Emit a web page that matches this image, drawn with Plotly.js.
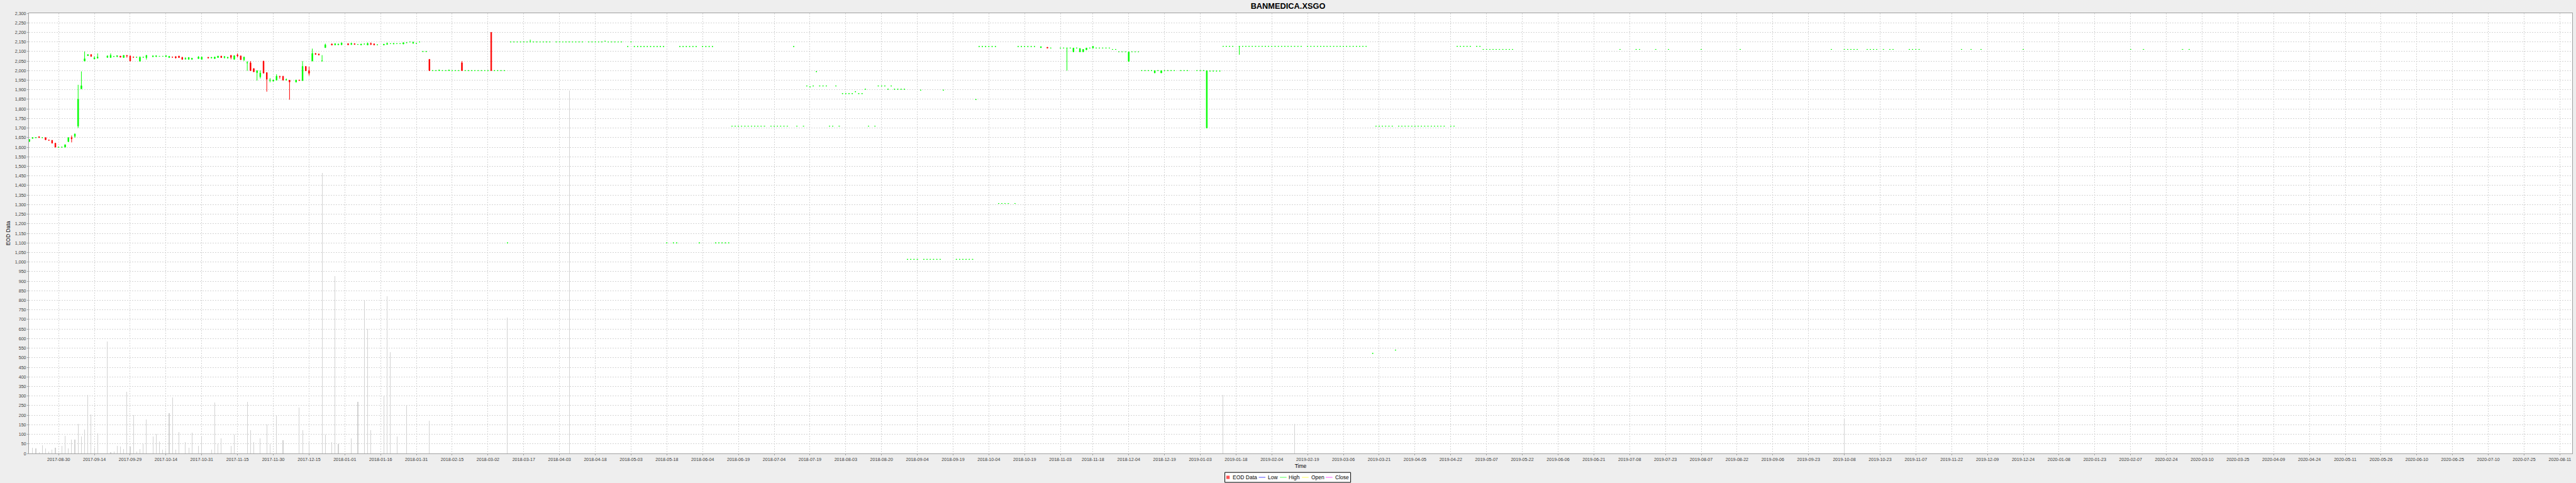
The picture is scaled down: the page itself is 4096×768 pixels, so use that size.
<!DOCTYPE html>
<html><head><meta charset="utf-8">
<script src="https://cdn.plot.ly/plotly-3.0.1.min.js"></script>
<style>html,body{margin:0;padding:0;background:#EEEEEE;}#chart{width:4096px;height:768px;}</style>
</head><body><div id="chart"></div>
<script>
// ---- candles with a visible range (open/high/low/close) ----
const barDates = [
'2017-08-17','2017-08-18','2017-08-21','2017-08-22','2017-08-24','2017-08-25','2017-08-28','2017-08-29',
'2017-09-01','2017-09-04','2017-09-05','2017-09-06','2017-09-07','2017-09-08','2017-09-11','2017-09-12','2017-09-13','2017-09-14','2017-09-15','2017-09-20','2017-09-21','2017-09-25','2017-09-26','2017-09-27','2017-09-28','2017-09-29',
'2017-10-02','2017-10-04','2017-10-06','2017-10-10','2017-10-11','2017-10-16','2017-10-17','2017-10-18','2017-10-19','2017-10-20','2017-10-23','2017-10-24','2017-10-25','2017-10-26','2017-10-30','2017-10-31',
'2017-11-02','2017-11-03','2017-11-06','2017-11-07','2017-11-08','2017-11-09','2017-11-10','2017-11-13','2017-11-14','2017-11-15','2017-11-16','2017-11-17','2017-11-20','2017-11-21','2017-11-22','2017-11-23','2017-11-24','2017-11-27','2017-11-28','2017-11-29','2017-11-30',
'2017-12-01','2017-12-04','2017-12-05','2017-12-06','2017-12-07','2017-12-11','2017-12-12','2017-12-13','2017-12-14','2017-12-15','2017-12-18','2017-12-19','2017-12-20','2017-12-21','2017-12-22','2017-12-26','2017-12-27','2017-12-28','2017-12-29',
'2018-01-02','2018-01-03','2018-01-04','2018-01-08','2018-01-10','2018-01-11','2018-01-12','2018-01-17','2018-01-18','2018-01-22','2018-01-25','2018-01-30',
'2018-02-06','2018-02-09','2018-02-14','2018-02-20','2018-03-05','2018-03-21',
'2018-10-26','2018-10-30','2018-11-07','2018-11-09','2018-11-13','2018-11-14','2018-11-15','2018-11-19','2018-12-04','2018-12-14','2018-12-18',
'2019-01-07','2019-01-21'];
const barOpen = [
1630,1646,1650,1655,1650,1637,1636,1621,
1600,1629,1650,1657,1710,1905,2050,2078,2084,2061,2065,2069,2068,2074,2076,2068,2080,2077,
2071,2049,2068,2073,2074,2073,2068,2071,2073,2076,2069,2060,2059,2059,2063,2059,
2070,2066,2063,2068,2076,2069,2066,2080,2059,2082,2077,2057,2040,2041,2011,1989,1968,2050,1990,1949,1945,
1950,1971,1971,1950,1950,1940,1951,1948,2022,2000,2050,2090,2087,2050,2120,2139,2134,2135,2135,
2141,2137,2141,2134,2134,2142,2140,2134,2137,2139,2139,2143,
2059,2000,2000,2041,2200,2150,
2120,2122,2118,2098,2098,2098,2109,2118,2048,1988,1988,
1700,2127];
const barHigh = [
1641,1650,1651,1656,1650,1637,1636,1621,
1613,1650,1661,1671,1926,1996,2100,2084,2084,2075,2090,2080,2090,2080,2076,2080,2080,2077,
2071,2075,2080,2080,2080,2080,2075,2071,2075,2076,2072,2070,2069,2065,2076,2071,
2070,2069,2071,2076,2076,2076,2070,2080,2078,2090,2077,2071,2050,2050,2011,2000,2001,2050,1990,1961,1951,
1981,1971,1971,1959,1950,1951,1951,2050,2022,2021,2115,2090,2087,2081,2141,2142,2141,2139,2145,
2141,2146,2141,2139,2147,2147,2140,2138,2147,2142,2146,2152,
2059,2003,2003,2050,2200,2162,
2126,2122,2118,2118,2116,2111,2118,2127,2098,2000,2000,
2000,2127];
const barLow = [
1628,1645,1649,1650,1638,1636,1621,1600,
1600,1629,1625,1649,1700,1905,2050,2078,2074,2060,2065,2069,2068,2070,2070,2068,2068,2050,
2070,2049,2058,2070,2071,2073,2068,2070,2063,2068,2057,2059,2059,2059,2063,2059,
2066,2066,2063,2068,2068,2063,2063,2059,2059,2069,2057,2050,1999,2000,1994,1948,1959,1987,1890,1939,1945,
1950,1958,1950,1950,1848,1940,1949,1948,1999,1974,2050,2085,2080,2050,2120,2132,2134,2135,2135,
2135,2134,2137,2134,2134,2134,2134,2134,2137,2139,2139,2141,
2000,2000,2000,2000,2000,2150,
2120,2118,2000,2098,2098,2098,2109,2118,2048,1988,1988,
1700,2083];
const barClose = [
1640,1650,1650,1650,1639,1636,1621,1600,
1613,1650,1644,1669,1851,1921,2062,2084,2074,2067,2071,2076,2080,2078,2070,2080,2077,2050,
2070,2070,2080,2076,2077,2078,2075,2070,2067,2068,2059,2063,2069,2065,2071,2071,
2066,2069,2071,2076,2068,2073,2070,2069,2078,2077,2057,2071,2042,2000,1994,2000,1987,1987,1955,1951,1951,
1971,1969,1950,1953,1941,1951,1949,2022,1999,1986,2090,2085,2082,2051,2135,2134,2141,2139,2145,
2135,2142,2137,2139,2142,2137,2134,2138,2142,2142,2146,2148,
2000,2003,2003,2000,2000,2150,
2125,2118,2118,2118,2116,2111,2118,2127,2098,2000,2000,
2000,2127];

// ---- days quoted at a single price (open = high = low = close) ----
const flatDates = [
'2017-08-23','2017-08-30','2017-08-31','2017-09-22','2017-10-03','2017-10-05','2017-10-12','2017-10-13',
'2018-01-05','2018-01-09','2018-01-15','2018-01-19','2018-01-23','2018-01-24','2018-01-26','2018-01-29','2018-01-31',
'2018-02-01','2018-02-02','2018-02-05','2018-02-07','2018-02-08','2018-02-12','2018-02-13','2018-02-15','2018-02-16','2018-02-19','2018-02-21','2018-02-22','2018-02-23','2018-02-26','2018-02-27','2018-02-28',
'2018-03-01','2018-03-02','2018-03-06','2018-03-07','2018-03-08','2018-03-09','2018-03-12','2018-03-13','2018-03-14','2018-03-15','2018-03-16','2018-03-19','2018-03-20','2018-03-22','2018-03-23','2018-03-26','2018-03-27','2018-03-28','2018-03-29',
'2018-04-02','2018-04-03','2018-04-04','2018-04-05','2018-04-06','2018-04-09','2018-04-10','2018-04-11','2018-04-12','2018-04-16','2018-04-17','2018-04-18','2018-04-19','2018-04-20','2018-04-23','2018-04-24','2018-04-25','2018-04-26','2018-04-27','2018-04-30',
'2018-05-02','2018-05-03','2018-05-04','2018-05-07','2018-05-08','2018-05-09','2018-05-10','2018-05-11','2018-05-14','2018-05-15','2018-05-16','2018-05-17','2018-05-18','2018-05-22','2018-05-23','2018-05-24','2018-05-25','2018-05-28','2018-05-29','2018-05-30','2018-05-31',
'2018-06-01','2018-06-04','2018-06-05','2018-06-06','2018-06-07','2018-06-08','2018-06-11','2018-06-12','2018-06-13','2018-06-14','2018-06-15','2018-06-18','2018-06-19','2018-06-20','2018-06-21','2018-06-22','2018-06-25','2018-06-26','2018-06-27','2018-06-28','2018-06-29',
'2018-07-03','2018-07-04','2018-07-05','2018-07-06','2018-07-09','2018-07-10','2018-07-12','2018-07-13','2018-07-17','2018-07-18','2018-07-19','2018-07-20','2018-07-23','2018-07-24','2018-07-25','2018-07-26','2018-07-27','2018-07-30','2018-07-31',
'2018-08-01','2018-08-02','2018-08-03','2018-08-06','2018-08-07','2018-08-08','2018-08-09','2018-08-10','2018-08-13','2018-08-14','2018-08-16','2018-08-17','2018-08-20','2018-08-21','2018-08-22','2018-08-23','2018-08-24','2018-08-27','2018-08-28','2018-08-29','2018-08-30','2018-08-31',
'2018-09-03','2018-09-04','2018-09-05','2018-09-06','2018-09-07','2018-09-10','2018-09-11','2018-09-12','2018-09-13','2018-09-14','2018-09-20','2018-09-21','2018-09-24','2018-09-25','2018-09-26','2018-09-27','2018-09-28',
'2018-10-01','2018-10-02','2018-10-03','2018-10-04','2018-10-05','2018-10-08','2018-10-09','2018-10-10','2018-10-11','2018-10-12','2018-10-16','2018-10-17','2018-10-18','2018-10-19','2018-10-22','2018-10-23','2018-10-24','2018-10-31',
'2018-11-05','2018-11-06','2018-11-08','2018-11-12','2018-11-16','2018-11-20','2018-11-21','2018-11-22','2018-11-23','2018-11-26','2018-11-27','2018-11-28','2018-11-29','2018-11-30',
'2018-12-03','2018-12-05','2018-12-06','2018-12-07','2018-12-10','2018-12-11','2018-12-12','2018-12-13','2018-12-17','2018-12-19','2018-12-20','2018-12-21','2018-12-24','2018-12-26','2018-12-27','2018-12-28',
'2019-01-02','2019-01-03','2019-01-04','2019-01-08','2019-01-09','2019-01-10','2019-01-11','2019-01-14','2019-01-15','2019-01-16','2019-01-17','2019-01-22','2019-01-23','2019-01-24','2019-01-25','2019-01-28','2019-01-29','2019-01-30','2019-01-31',
'2019-02-01','2019-02-04','2019-02-05','2019-02-06','2019-02-07','2019-02-08','2019-02-11','2019-02-12','2019-02-13','2019-02-14','2019-02-15','2019-02-19','2019-02-20','2019-02-21','2019-02-22','2019-02-25','2019-02-26','2019-02-27','2019-02-28',
'2019-03-01','2019-03-04','2019-03-05','2019-03-06','2019-03-07','2019-03-08','2019-03-11','2019-03-12','2019-03-13','2019-03-14','2019-03-15','2019-03-19','2019-03-20','2019-03-21','2019-03-22','2019-03-25','2019-03-26','2019-03-27','2019-03-28','2019-03-29',
'2019-04-01','2019-04-02','2019-04-03','2019-04-04','2019-04-05','2019-04-08','2019-04-09','2019-04-10','2019-04-11','2019-04-12','2019-04-15','2019-04-16','2019-04-17','2019-04-18','2019-04-22','2019-04-23','2019-04-24','2019-04-25','2019-04-26','2019-04-29','2019-04-30',
'2019-05-02','2019-05-03','2019-05-06','2019-05-07','2019-05-08','2019-05-09','2019-05-10','2019-05-13','2019-05-14','2019-05-15','2019-05-16','2019-05-17',
'2019-07-03','2019-07-10','2019-07-11','2019-07-18','2019-07-24','2019-08-07','2019-08-23','2019-10-02','2019-10-08','2019-10-09','2019-10-10','2019-10-11','2019-10-14','2019-10-17','2019-10-18','2019-10-21','2019-10-22','2019-10-24','2019-10-28','2019-10-29','2019-11-05','2019-11-06','2019-11-07','2019-11-08','2019-11-27','2019-12-02','2019-12-05','2019-12-24',
'2020-02-07','2020-02-13','2020-03-02','2020-03-04'];
const flatPrice = [
1650,1600,1600,2074,2070,2070,2075,2075,
2137,2139,2135,2141,2141,2141,2146,2150,2143,
2150,2100,2100,2000,2000,2000,2000,2000,2000,2000,2000,2000,2000,2000,2000,2000,
2000,2000,2000,2000,2000,2000,1100,2150,2150,2150,2150,2150,2150,2150,2150,2150,2150,2150,2150,
2150,2150,2150,2150,2150,2150,2150,2150,2150,2150,2150,2150,2150,2150,2154,2150,2150,2150,2150,2150,
2126,2150,2126,2126,2126,2126,2126,2126,2126,2126,2126,2126,1100,1100,1100,2126,2126,2126,2126,2126,2126,
1100,2126,2126,2126,2126,1100,1100,1100,1100,1100,1710,1710,1710,1710,1710,1710,1710,1710,1710,1710,1710,
1710,1710,1710,1710,1710,1710,2126,1710,1710,1920,1915,1920,1995,1920,1920,1920,1710,1710,1920,
1710,1880,1880,1880,1880,1890,1880,1880,1903,1710,1710,1920,1920,1920,1903,1920,1903,1903,1903,1903,1014,1014,
1014,1014,1898,1014,1014,1014,1014,1014,1014,1898,1014,1014,1014,1014,1014,1014,1849,
2126,2126,2126,2126,2126,2126,1306,1306,1306,1306,1306,2126,2126,2126,2126,2126,2126,2118,
2118,2118,2118,2118,2118,2118,2118,2118,2118,2118,2111,2111,2098,2098,
2098,2098,2098,2098,2000,2000,2000,2000,2000,2000,2000,2000,2000,2000,2000,2000,
2000,2000,2000,1998,1998,1998,1998,2127,2127,2127,2127,2127,2127,2127,2127,2127,2127,2127,2127,
2127,2127,2127,2127,2127,2127,2127,2127,2127,2127,2127,2127,2127,2127,2127,2127,2127,2127,2127,
2127,2127,2127,2127,2127,2127,2127,2127,2127,2127,2127,523,1710,1710,1710,1710,1710,1710,540,1710,
1710,1710,1710,1710,1710,1710,1710,1710,1710,1710,1710,1710,1710,1710,1710,1710,2127,2127,2127,2127,2127,
2127,2127,2111,2111,2111,2111,2111,2111,2111,2111,2111,2111,
2111,2111,2111,2111,2111,2111,2111,2111,2111,2111,2111,2111,2111,2111,2111,2111,2111,2111,2111,2111,2111,2111,2111,2111,2111,2111,2111,2111,
2111,2111,2111,2111];

// ---- traded volume ----
const volDates = [
'2017-08-18','2017-08-21','2017-08-22','2017-08-23','2017-08-24','2017-08-25','2017-08-28','2017-08-29','2017-08-30','2017-08-31',
'2017-09-01','2017-09-04','2017-09-05','2017-09-06','2017-09-07','2017-09-08','2017-09-11','2017-09-12','2017-09-13','2017-09-14','2017-09-15','2017-09-20','2017-09-21','2017-09-22','2017-09-25','2017-09-26','2017-09-27','2017-09-28','2017-09-29',
'2017-10-02','2017-10-03','2017-10-04','2017-10-05','2017-10-06','2017-10-10','2017-10-11','2017-10-12','2017-10-13','2017-10-16','2017-10-17','2017-10-18','2017-10-19','2017-10-20',
'2017-10-24','2017-10-25','2017-10-26','2017-10-30','2017-10-31','2017-11-03','2017-11-06','2017-11-07','2017-11-08','2017-11-13','2017-11-14','2017-11-20','2017-11-21','2017-11-22','2017-11-24','2017-11-28','2017-11-29',
'2017-12-01','2017-12-05','2017-12-12','2017-12-13','2017-12-15','2017-12-21','2017-12-22','2017-12-26','2017-12-27','2017-12-28',
'2018-01-03','2018-01-05','2018-01-09','2018-01-10','2018-01-11','2018-01-17','2018-01-18','2018-01-19','2018-01-23','2018-01-26','2018-02-06','2018-03-12','2018-04-06',
'2019-01-14','2019-02-13','2019-10-08'];
const volValues = [
30,26,8,43,25,11,19,30,2,38,
93,26,71,72,153,90,125,304,204,29,105,585,5,9,38,36,23,321,37,
201,11,23,51,178,90,103,62,19,15,211,291,19,112,
60,30,110,40,90,20,265,50,80,40,100,270,120,60,80,150,50,
200,70,240,120,60,1466,100,60,925,50,
80,270,800,650,120,300,820,530,90,250,170,711,1896,
307,153,180];

// ---- date axis labels ----
const tickDates = ['2017-08-30','2017-09-14','2017-09-29','2017-10-16','2017-10-31','2017-11-15','2017-11-30','2017-12-15',
'2018-01-01','2018-01-16','2018-01-31','2018-02-15','2018-03-02','2018-03-19','2018-04-03','2018-04-18','2018-05-03','2018-05-18',
'2018-06-04','2018-06-19','2018-07-04','2018-07-19','2018-08-03','2018-08-20','2018-09-04','2018-09-19','2018-10-04','2018-10-19',
'2018-11-05','2018-11-19','2018-12-04','2018-12-19','2019-01-03','2019-01-18','2019-02-04','2019-02-19','2019-03-06','2019-03-21',
'2019-04-05','2019-04-22','2019-05-07','2019-05-22','2019-06-06','2019-06-21','2019-07-08','2019-07-23','2019-08-07','2019-08-22',
'2019-09-06','2019-09-23','2019-10-08','2019-10-23','2019-11-07','2019-11-22','2019-12-09','2019-12-24','2020-01-08','2020-01-23',
'2020-02-07','2020-02-24','2020-03-10','2020-03-25','2020-04-09','2020-04-24','2020-05-11','2020-05-26','2020-06-10','2020-06-25',
'2020-07-10','2020-07-27','2020-08-11'];
const tickLabels = ['2017-08-30','2017-09-14','2017-09-29','2017-10-14','2017-10-31','2017-11-15','2017-11-30','2017-12-15',
'2018-01-01','2018-01-16','2018-01-31','2018-02-15','2018-03-02','2018-03-17','2018-04-03','2018-04-18','2018-05-03','2018-05-18',
'2018-06-04','2018-06-19','2018-07-04','2018-07-19','2018-08-03','2018-08-20','2018-09-04','2018-09-19','2018-10-04','2018-10-19',
'2018-11-03','2018-11-18','2018-12-04','2018-12-19','2019-01-03','2019-01-18','2019-02-04','2019-02-19','2019-03-06','2019-03-21',
'2019-04-05','2019-04-22','2019-05-07','2019-05-22','2019-06-06','2019-06-21','2019-07-08','2019-07-23','2019-08-07','2019-08-22',
'2019-09-06','2019-09-23','2019-10-08','2019-10-23','2019-11-07','2019-11-22','2019-12-09','2019-12-24','2020-01-08','2020-01-23',
'2020-02-07','2020-02-24','2020-03-10','2020-03-25','2020-04-09','2020-04-24','2020-05-11','2020-05-26','2020-06-10','2020-06-25',
'2020-07-10','2020-07-25','2020-08-11'];

// ---- legend entries ----
const legendNames = ['EOD Data', 'Low', 'High', 'Open', 'Close'];
const legendColors = ['#FF5555', '#4D4DFF', '#55FF55', '#FFFF55', '#FF55FF'];

const FONT = 'Liberation Sans, Arial, sans-serif';
const UP = '#00FF00', DOWN = '#FF0000';

const upI = [], dnI = [];
barDates.forEach((d, i) => (barClose[i] < barOpen[i] ? dnI : upI).push(i));
const pick = (a, idx) => idx.map(i => a[i]);

function candle(x, o, h, l, c, color) {
  return {type: 'candlestick', x: x, open: o, high: h, low: l, close: c,
    showlegend: false, hoverinfo: 'skip', whiskerwidth: 0,
    increasing: {line: {color: color, width: 1}, fillcolor: color},
    decreasing: {line: {color: color, width: 1}, fillcolor: color}};
}

const traces = [
  {type: 'bar', x: volDates, y: volValues, width: 0.22 * 86400000,
   marker: {color: '#D2D2D2', line: {width: 0}}, showlegend: false, hoverinfo: 'skip'},
  candle(flatDates, flatPrice, flatPrice, flatPrice, flatPrice, UP),
  candle(pick(barDates, upI), pick(barOpen, upI), pick(barHigh, upI), pick(barLow, upI), pick(barClose, upI), UP),
  candle(pick(barDates, dnI), pick(barOpen, dnI), pick(barHigh, dnI), pick(barLow, dnI), pick(barClose, dnI), DOWN)
];

// Legend box below the plot, centred on the page (pixel offsets from its centre)
const W = 4096, H = 768, ML = 46, MR = 6, MT = 21, MB = 47;
const plotW = W - ML - MR, plotH = H - MT - MB;
const lgX = (W / 2 - ML) / plotW;             // paper x of legend centre
const lgY = (H - MB - 759) / plotH;           // paper y of legend row
const symX = [-95.4, -41.2, -7.6, 27.5, 65.4];  // symbol centres (px)
const txtX = [-89.5, -33.5, -0.3, 35.7, 73.6];  // label starts (px)
const shapes = [{type: 'rect', xref: 'paper', yref: 'paper', xsizemode: 'pixel', ysizemode: 'pixel',
  xanchor: lgX, yanchor: lgY, x0: -100.4, x1: 99.6, y0: -8, y1: 7.8,
  line: {color: '#000000', width: 1}, fillcolor: '#FFFFFF', layer: 'above'}];
const annotations = [];
legendNames.forEach((n, i) => {
  if (i === 0) {
    shapes.push({type: 'rect', xref: 'paper', yref: 'paper', xsizemode: 'pixel', ysizemode: 'pixel',
      xanchor: lgX, yanchor: lgY, x0: symX[i] - 2.6, x1: symX[i] + 2.6, y0: -2.6, y1: 2.6,
      line: {width: 0}, fillcolor: legendColors[i], layer: 'above'});
  } else {
    shapes.push({type: 'line', xref: 'paper', yref: 'paper', xsizemode: 'pixel', ysizemode: 'pixel',
      xanchor: lgX, yanchor: lgY, x0: symX[i] - 5.3, x1: symX[i] + 5.3, y0: 0, y1: 0,
      line: {color: legendColors[i], width: 1}, layer: 'above'});
  }
  annotations.push({xref: 'paper', yref: 'paper', x: lgX, y: lgY, xshift: txtX[i], yshift: 0,
    xanchor: 'left', yanchor: 'middle', showarrow: false, text: n, borderpad: 0,
    font: {size: 8.5, family: FONT, color: '#000000'}});
});

const layout = {
  width: W, height: H,
  margin: {l: ML, r: MR, t: MT, b: MB, pad: 0},
  paper_bgcolor: '#EEEEEE', plot_bgcolor: '#FFFFFF',
  font: {family: FONT, color: '#000000'},
  title: {text: '<b>BANMEDICA.XSGO</b>', font: {size: 12.8, family: FONT, color: '#000000'},
          x: 0.5, xanchor: 'center', y: 1 - 9.5 / 768, yanchor: 'middle', yref: 'container'},
  boxgap: 0.6,
  bargap: 0,
  showlegend: false,
  shapes: shapes,
  annotations: annotations,
  xaxis: {type: 'date', range: ['2017-08-16 21:00', '2020-08-14 19:00'],
          rangebreaks: [{bounds: ['sat', 'mon']}],
          rangeslider: {visible: false},
          tickmode: 'array', tickvals: tickDates, ticktext: tickLabels,
          tickfont: {size: 7.1, family: FONT, color: '#404040'}, tickangle: 0,
          ticks: 'outside', ticklen: 2, tickcolor: '#A0A0A0', tickwidth: 1,
          showgrid: true, gridcolor: '#D4D4D4', griddash: '2px,2px', gridwidth: 1,
          showline: true, linecolor: '#A0A0A0', linewidth: 1, mirror: true, zeroline: false,
          title: {text: 'Time', font: {size: 8.5, family: FONT, color: '#000000'}, standoff: 4}},
  yaxis: {range: [0, 2300], tickmode: 'linear', tick0: 0, dtick: 50, tickformat: ',d',
          tickfont: {size: 7.1, family: FONT, color: '#404040'},
          ticks: 'outside', ticklen: 2, tickcolor: '#A0A0A0', tickwidth: 1,
          showgrid: true, gridcolor: '#D4D4D4', griddash: '2px,2px', gridwidth: 1,
          showline: true, linecolor: '#A0A0A0', linewidth: 1, mirror: true, zeroline: false,
          title: {text: 'EOD Data', font: {size: 8.5, family: FONT, color: '#000000'}, standoff: 5}}
};

Plotly.newPlot('chart', traces, layout, {staticPlot: true, displayModeBar: false});
</script>
</body></html>
